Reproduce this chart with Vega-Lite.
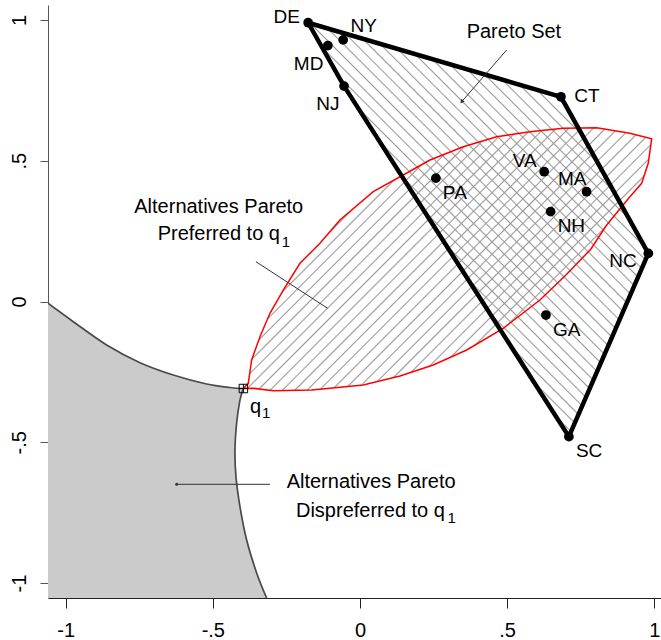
{
  "$schema": "https://vega.github.io/schema/vega-lite/v6.json",
  "width": 613,
  "height": 593,
  "autosize": {"type": "none"},
  "padding": {"left": 48, "top": 5, "right": 0, "bottom": 42},
  "background": "white",
  "config": {
    "view": {"stroke": null},
    "font": "Liberation Sans",
    "text": {"font": "Liberation Sans", "color": "#000"}
  },
  "datasets": {
    "states": [
      {"state": "DE", "x": -0.176, "y": 0.990},
      {"state": "NY", "x": -0.057, "y": 0.929},
      {"state": "MD", "x": -0.109, "y": 0.909},
      {"state": "NJ", "x": -0.054, "y": 0.765},
      {"state": "CT", "x": 0.683, "y": 0.727},
      {"state": "PA", "x": 0.258, "y": 0.438},
      {"state": "VA", "x": 0.626, "y": 0.461},
      {"state": "MA", "x": 0.770, "y": 0.390},
      {"state": "NH", "x": 0.648, "y": 0.319},
      {"state": "NC", "x": 0.980, "y": 0.171},
      {"state": "GA", "x": 0.632, "y": -0.048},
      {"state": "SC", "x": 0.710, "y": -0.480}
    ],
    "paretoSet": [
      {"i": 0, "state": "DE", "x": -0.176, "y": 0.990},
      {"i": 1, "state": "CT", "x": 0.683, "y": 0.727},
      {"i": 2, "state": "NC", "x": 0.980, "y": 0.171},
      {"i": 3, "state": "SC", "x": 0.710, "y": -0.480},
      {"i": 4, "state": "NJ", "x": -0.054, "y": 0.765},
      {"i": 5, "state": "DE", "x": -0.176, "y": 0.990}
    ],
    "preferred": [
      {"i": 0, "x": -0.396, "y": -0.309},
      {"i": 1, "x": -0.3795, "y": -0.2905},
      {"i": 2, "x": -0.368, "y": -0.2077},
      {"i": 3, "x": -0.3398, "y": -0.125},
      {"i": 4, "x": -0.3058, "y": -0.0419},
      {"i": 5, "x": -0.2606, "y": 0.0408},
      {"i": 6, "x": -0.2039, "y": 0.1357},
      {"i": 7, "x": -0.1359, "y": 0.2067},
      {"i": 8, "x": -0.068, "y": 0.2894},
      {"i": 9, "x": 0.0452, "y": 0.3899},
      {"i": 10, "x": 0.1471, "y": 0.4492},
      {"i": 11, "x": 0.2379, "y": 0.5025},
      {"i": 12, "x": 0.351, "y": 0.5497},
      {"i": 13, "x": 0.4645, "y": 0.5852},
      {"i": 14, "x": 0.5776, "y": 0.603},
      {"i": 15, "x": 0.6908, "y": 0.6151},
      {"i": 16, "x": 0.8043, "y": 0.6172},
      {"i": 17, "x": 0.9174, "y": 0.5973},
      {"i": 18, "x": 0.9912, "y": 0.5778},
      {"i": 19, "x": 0.9796, "y": 0.4908},
      {"i": 20, "x": 0.9572, "y": 0.4197},
      {"i": 21, "x": 0.9174, "y": 0.3722},
      {"i": 22, "x": 0.8892, "y": 0.3366},
      {"i": 23, "x": 0.8359, "y": 0.2681},
      {"i": 24, "x": 0.7849, "y": 0.1864},
      {"i": 25, "x": 0.7, "y": 0.0941},
      {"i": 26, "x": 0.6116, "y": 0.0053},
      {"i": 27, "x": 0.4869, "y": -0.0952},
      {"i": 28, "x": 0.3626, "y": -0.1722},
      {"i": 29, "x": 0.2491, "y": -0.2255},
      {"i": 30, "x": 0.1359, "y": -0.2646},
      {"i": 31, "x": 0.0112, "y": -0.2965},
      {"i": 32, "x": -0.1019, "y": -0.3082},
      {"i": 33, "x": -0.1641, "y": -0.3143},
      {"i": 34, "x": -0.2946, "y": -0.3168},
      {"i": 35, "x": -0.3626, "y": -0.3082},
      {"i": 36, "x": -0.396, "y": -0.309}
    ],
    "dispreferred": [
      {"i": 0, "x": -1.06, "y": -0.0064},
      {"i": 1, "x": -0.9742, "y": -0.0717},
      {"i": 2, "x": -0.8607, "y": -0.1545},
      {"i": 3, "x": -0.7475, "y": -0.2173},
      {"i": 4, "x": -0.6344, "y": -0.261},
      {"i": 5, "x": -0.5209, "y": -0.293},
      {"i": 6, "x": -0.4417, "y": -0.3054},
      {"i": 7, "x": -0.396, "y": -0.309},
      {"i": 8, "x": -0.4077, "y": -0.3501},
      {"i": 9, "x": -0.419, "y": -0.4315},
      {"i": 10, "x": -0.4247, "y": -0.5277},
      {"i": 11, "x": -0.4213, "y": -0.6222},
      {"i": 12, "x": -0.4077, "y": -0.7287},
      {"i": 13, "x": -0.385, "y": -0.8469},
      {"i": 14, "x": -0.351, "y": -0.9641},
      {"i": 15, "x": -0.317, "y": -1.053},
      {"i": 16, "x": -1.06, "y": -1.053},
      {"i": 17, "x": -1.06, "y": -0.0064}
    ],
    "pointers": [
      {"x": 0.4985, "y": 0.8932, "x2": 0.3456, "y2": 0.7095},
      {"x": -0.3534, "y": 0.1413, "x2": -0.1098, "y2": -0.0242},
      {"x": -0.3058, "y": -0.6492, "x2": -0.6228, "y2": -0.6492}
    ]
  },
  "encoding": {
    "x": {
      "field": "x",
      "type": "quantitative",
      "scale": {"domain": [-1.06, 1.023], "nice": false, "zero": false},
      "axis": {
        "title": null,
        "grid": false,
        "values": [-1, -0.5, 0, 0.5, 1],
        "labelExpr": "datum.value == 0 ? '0' : datum.value == 0.5 ? '.5' : datum.value == -0.5 ? '-.5' : datum.value == 1 ? '1' : '-1'",
        "labelFont": "Liberation Sans",
        "labelFontSize": 20,
        "labelColor": "#000",
        "labelFlush": false,
        "labelOverlap": false,
        "tickSize": 10,
        "labelPadding": 12,
        "domainColor": "#222",
        "tickColor": "#222"
      }
    },
    "y": {
      "field": "y",
      "type": "quantitative",
      "scale": {"domain": [-1.053, 1.053], "nice": false, "zero": false},
      "axis": {
        "title": null,
        "grid": false,
        "values": [-1, -0.5, 0, 0.5, 1],
        "labelExpr": "datum.value == 0 ? '0' : datum.value == 0.5 ? '.5' : datum.value == -0.5 ? '-.5' : datum.value == 1 ? '1' : '-1'",
        "labelFont": "Liberation Sans",
        "labelFontSize": 20,
        "labelColor": "#000",
        "labelAngle": 270,
        "labelAlign": "center",
        "labelBaseline": "bottom",
        "labelFlush": false,
        "labelOverlap": false,
        "tickSize": 8,
        "labelPadding": 11,
        "domainColor": "#555",
        "tickColor": "#555"
      }
    }
  },
  "layer": [
    {
      "data": {"name": "dispreferred"},
      "mark": {"type": "line", "fill": "#cbcbcb", "strokeOpacity": 0, "clip": true},
      "encoding": {"order": {"field": "i", "type": "quantitative"}}
    },
    {
      "data": {"name": "dispreferred"},
      "transform": [{"filter": "datum.i <= 7"}],
      "mark": {"type": "line", "color": "#4a4a4a", "strokeWidth": 1.7, "interpolate": "cardinal", "clip": true},
      "encoding": {"order": {"field": "i", "type": "quantitative"}}
    },
    {
      "data": {"name": "dispreferred"},
      "transform": [{"filter": "datum.i >= 7 && datum.i <= 15"}],
      "mark": {"type": "line", "color": "#4a4a4a", "strokeWidth": 1.7, "interpolate": "cardinal", "clip": true},
      "encoding": {"order": {"field": "i", "type": "quantitative"}}
    },
    {
      "data": {"name": "paretoSet"},
      "mark": {
        "type": "line",
        "strokeOpacity": 0,
        "fill": {
          "gradient": "linear",
          "x1": 1, "y1": 0, "x2": 0.0886, "y2": 1.1097,
          "stops": [
            {"offset":0.006,"color":"#9a9a9a00"},{"offset":0.008,"color":"#9a9a9a"},{"offset":0.010,"color":"#9a9a9a00"},
            {"offset":0.022,"color":"#9a9a9a00"},{"offset":0.024,"color":"#9a9a9a"},{"offset":0.026,"color":"#9a9a9a00"},
            {"offset":0.038,"color":"#9a9a9a00"},{"offset":0.040,"color":"#9a9a9a"},{"offset":0.042,"color":"#9a9a9a00"},
            {"offset":0.054,"color":"#9a9a9a00"},{"offset":0.056,"color":"#9a9a9a"},{"offset":0.058,"color":"#9a9a9a00"},
            {"offset":0.070,"color":"#9a9a9a00"},{"offset":0.072,"color":"#9a9a9a"},{"offset":0.074,"color":"#9a9a9a00"},
            {"offset":0.086,"color":"#9a9a9a00"},{"offset":0.088,"color":"#9a9a9a"},{"offset":0.090,"color":"#9a9a9a00"},
            {"offset":0.102,"color":"#9a9a9a00"},{"offset":0.104,"color":"#9a9a9a"},{"offset":0.106,"color":"#9a9a9a00"},
            {"offset":0.118,"color":"#9a9a9a00"},{"offset":0.120,"color":"#9a9a9a"},{"offset":0.122,"color":"#9a9a9a00"},
            {"offset":0.134,"color":"#9a9a9a00"},{"offset":0.136,"color":"#9a9a9a"},{"offset":0.138,"color":"#9a9a9a00"},
            {"offset":0.150,"color":"#9a9a9a00"},{"offset":0.152,"color":"#9a9a9a"},{"offset":0.154,"color":"#9a9a9a00"},
            {"offset":0.166,"color":"#9a9a9a00"},{"offset":0.168,"color":"#9a9a9a"},{"offset":0.170,"color":"#9a9a9a00"},
            {"offset":0.182,"color":"#9a9a9a00"},{"offset":0.184,"color":"#9a9a9a"},{"offset":0.186,"color":"#9a9a9a00"},
            {"offset":0.198,"color":"#9a9a9a00"},{"offset":0.200,"color":"#9a9a9a"},{"offset":0.202,"color":"#9a9a9a00"},
            {"offset":0.214,"color":"#9a9a9a00"},{"offset":0.216,"color":"#9a9a9a"},{"offset":0.218,"color":"#9a9a9a00"},
            {"offset":0.230,"color":"#9a9a9a00"},{"offset":0.232,"color":"#9a9a9a"},{"offset":0.234,"color":"#9a9a9a00"},
            {"offset":0.246,"color":"#9a9a9a00"},{"offset":0.248,"color":"#9a9a9a"},{"offset":0.250,"color":"#9a9a9a00"},
            {"offset":0.262,"color":"#9a9a9a00"},{"offset":0.264,"color":"#9a9a9a"},{"offset":0.266,"color":"#9a9a9a00"},
            {"offset":0.278,"color":"#9a9a9a00"},{"offset":0.280,"color":"#9a9a9a"},{"offset":0.282,"color":"#9a9a9a00"},
            {"offset":0.294,"color":"#9a9a9a00"},{"offset":0.296,"color":"#9a9a9a"},{"offset":0.298,"color":"#9a9a9a00"},
            {"offset":0.310,"color":"#9a9a9a00"},{"offset":0.312,"color":"#9a9a9a"},{"offset":0.314,"color":"#9a9a9a00"},
            {"offset":0.326,"color":"#9a9a9a00"},{"offset":0.328,"color":"#9a9a9a"},{"offset":0.330,"color":"#9a9a9a00"},
            {"offset":0.342,"color":"#9a9a9a00"},{"offset":0.344,"color":"#9a9a9a"},{"offset":0.346,"color":"#9a9a9a00"},
            {"offset":0.358,"color":"#9a9a9a00"},{"offset":0.360,"color":"#9a9a9a"},{"offset":0.362,"color":"#9a9a9a00"},
            {"offset":0.374,"color":"#9a9a9a00"},{"offset":0.376,"color":"#9a9a9a"},{"offset":0.378,"color":"#9a9a9a00"},
            {"offset":0.390,"color":"#9a9a9a00"},{"offset":0.392,"color":"#9a9a9a"},{"offset":0.394,"color":"#9a9a9a00"},
            {"offset":0.406,"color":"#9a9a9a00"},{"offset":0.408,"color":"#9a9a9a"},{"offset":0.410,"color":"#9a9a9a00"},
            {"offset":0.422,"color":"#9a9a9a00"},{"offset":0.424,"color":"#9a9a9a"},{"offset":0.426,"color":"#9a9a9a00"},
            {"offset":0.438,"color":"#9a9a9a00"},{"offset":0.440,"color":"#9a9a9a"},{"offset":0.442,"color":"#9a9a9a00"},
            {"offset":0.454,"color":"#9a9a9a00"},{"offset":0.456,"color":"#9a9a9a"},{"offset":0.458,"color":"#9a9a9a00"},
            {"offset":0.470,"color":"#9a9a9a00"},{"offset":0.472,"color":"#9a9a9a"},{"offset":0.474,"color":"#9a9a9a00"},
            {"offset":0.486,"color":"#9a9a9a00"},{"offset":0.488,"color":"#9a9a9a"},{"offset":0.490,"color":"#9a9a9a00"},
            {"offset":0.502,"color":"#9a9a9a00"},{"offset":0.504,"color":"#9a9a9a"},{"offset":0.506,"color":"#9a9a9a00"},
            {"offset":0.518,"color":"#9a9a9a00"},{"offset":0.520,"color":"#9a9a9a"},{"offset":0.522,"color":"#9a9a9a00"},
            {"offset":0.534,"color":"#9a9a9a00"},{"offset":0.536,"color":"#9a9a9a"},{"offset":0.538,"color":"#9a9a9a00"},
            {"offset":0.550,"color":"#9a9a9a00"},{"offset":0.552,"color":"#9a9a9a"},{"offset":0.554,"color":"#9a9a9a00"},
            {"offset":0.566,"color":"#9a9a9a00"},{"offset":0.568,"color":"#9a9a9a"},{"offset":0.570,"color":"#9a9a9a00"},
            {"offset":0.582,"color":"#9a9a9a00"},{"offset":0.584,"color":"#9a9a9a"},{"offset":0.586,"color":"#9a9a9a00"},
            {"offset":0.598,"color":"#9a9a9a00"},{"offset":0.600,"color":"#9a9a9a"},{"offset":0.602,"color":"#9a9a9a00"},
            {"offset":0.614,"color":"#9a9a9a00"},{"offset":0.616,"color":"#9a9a9a"},{"offset":0.618,"color":"#9a9a9a00"},
            {"offset":0.630,"color":"#9a9a9a00"},{"offset":0.632,"color":"#9a9a9a"},{"offset":0.634,"color":"#9a9a9a00"},
            {"offset":0.646,"color":"#9a9a9a00"},{"offset":0.648,"color":"#9a9a9a"},{"offset":0.650,"color":"#9a9a9a00"},
            {"offset":0.662,"color":"#9a9a9a00"},{"offset":0.664,"color":"#9a9a9a"},{"offset":0.666,"color":"#9a9a9a00"},
            {"offset":0.678,"color":"#9a9a9a00"},{"offset":0.680,"color":"#9a9a9a"},{"offset":0.682,"color":"#9a9a9a00"},
            {"offset":0.694,"color":"#9a9a9a00"},{"offset":0.696,"color":"#9a9a9a"},{"offset":0.698,"color":"#9a9a9a00"},
            {"offset":0.710,"color":"#9a9a9a00"},{"offset":0.712,"color":"#9a9a9a"},{"offset":0.714,"color":"#9a9a9a00"},
            {"offset":0.726,"color":"#9a9a9a00"},{"offset":0.728,"color":"#9a9a9a"},{"offset":0.730,"color":"#9a9a9a00"},
            {"offset":0.742,"color":"#9a9a9a00"},{"offset":0.744,"color":"#9a9a9a"},{"offset":0.746,"color":"#9a9a9a00"},
            {"offset":0.758,"color":"#9a9a9a00"},{"offset":0.760,"color":"#9a9a9a"},{"offset":0.762,"color":"#9a9a9a00"},
            {"offset":0.774,"color":"#9a9a9a00"},{"offset":0.776,"color":"#9a9a9a"},{"offset":0.778,"color":"#9a9a9a00"},
            {"offset":0.790,"color":"#9a9a9a00"},{"offset":0.792,"color":"#9a9a9a"},{"offset":0.794,"color":"#9a9a9a00"},
            {"offset":0.806,"color":"#9a9a9a00"},{"offset":0.808,"color":"#9a9a9a"},{"offset":0.810,"color":"#9a9a9a00"},
            {"offset":0.822,"color":"#9a9a9a00"},{"offset":0.824,"color":"#9a9a9a"},{"offset":0.826,"color":"#9a9a9a00"},
            {"offset":0.838,"color":"#9a9a9a00"},{"offset":0.840,"color":"#9a9a9a"},{"offset":0.842,"color":"#9a9a9a00"},
            {"offset":0.854,"color":"#9a9a9a00"},{"offset":0.856,"color":"#9a9a9a"},{"offset":0.858,"color":"#9a9a9a00"},
            {"offset":0.870,"color":"#9a9a9a00"},{"offset":0.872,"color":"#9a9a9a"},{"offset":0.874,"color":"#9a9a9a00"},
            {"offset":0.886,"color":"#9a9a9a00"},{"offset":0.888,"color":"#9a9a9a"},{"offset":0.890,"color":"#9a9a9a00"},
            {"offset":0.902,"color":"#9a9a9a00"},{"offset":0.904,"color":"#9a9a9a"},{"offset":0.906,"color":"#9a9a9a00"},
            {"offset":0.918,"color":"#9a9a9a00"},{"offset":0.920,"color":"#9a9a9a"},{"offset":0.922,"color":"#9a9a9a00"},
            {"offset":0.934,"color":"#9a9a9a00"},{"offset":0.936,"color":"#9a9a9a"},{"offset":0.938,"color":"#9a9a9a00"},
            {"offset":0.950,"color":"#9a9a9a00"},{"offset":0.952,"color":"#9a9a9a"},{"offset":0.954,"color":"#9a9a9a00"},
            {"offset":0.966,"color":"#9a9a9a00"},{"offset":0.968,"color":"#9a9a9a"},{"offset":0.970,"color":"#9a9a9a00"},
            {"offset":0.982,"color":"#9a9a9a00"},{"offset":0.984,"color":"#9a9a9a"},{"offset":0.986,"color":"#9a9a9a00"}
          ]
        }
      },
      "encoding": {"order": {"field": "i", "type": "quantitative"}}
    },
    {
      "data": {"name": "preferred"},
      "mark": {
        "type": "line",
        "stroke": "#ff0000",
        "strokeWidth": 1.5,
        "fill": {
          "gradient": "linear",
          "x1": 0, "y1": 0, "x2": 1.3313, "y2": 0.857,
          "stops": [
            {"offset":0.006,"color":"#9a9a9a00"},{"offset":0.008,"color":"#9a9a9a"},{"offset":0.010,"color":"#9a9a9a00"},
            {"offset":0.022,"color":"#9a9a9a00"},{"offset":0.024,"color":"#9a9a9a"},{"offset":0.026,"color":"#9a9a9a00"},
            {"offset":0.038,"color":"#9a9a9a00"},{"offset":0.040,"color":"#9a9a9a"},{"offset":0.042,"color":"#9a9a9a00"},
            {"offset":0.054,"color":"#9a9a9a00"},{"offset":0.056,"color":"#9a9a9a"},{"offset":0.058,"color":"#9a9a9a00"},
            {"offset":0.070,"color":"#9a9a9a00"},{"offset":0.072,"color":"#9a9a9a"},{"offset":0.074,"color":"#9a9a9a00"},
            {"offset":0.086,"color":"#9a9a9a00"},{"offset":0.088,"color":"#9a9a9a"},{"offset":0.090,"color":"#9a9a9a00"},
            {"offset":0.102,"color":"#9a9a9a00"},{"offset":0.104,"color":"#9a9a9a"},{"offset":0.106,"color":"#9a9a9a00"},
            {"offset":0.118,"color":"#9a9a9a00"},{"offset":0.120,"color":"#9a9a9a"},{"offset":0.122,"color":"#9a9a9a00"},
            {"offset":0.134,"color":"#9a9a9a00"},{"offset":0.136,"color":"#9a9a9a"},{"offset":0.138,"color":"#9a9a9a00"},
            {"offset":0.150,"color":"#9a9a9a00"},{"offset":0.152,"color":"#9a9a9a"},{"offset":0.154,"color":"#9a9a9a00"},
            {"offset":0.166,"color":"#9a9a9a00"},{"offset":0.168,"color":"#9a9a9a"},{"offset":0.170,"color":"#9a9a9a00"},
            {"offset":0.182,"color":"#9a9a9a00"},{"offset":0.184,"color":"#9a9a9a"},{"offset":0.186,"color":"#9a9a9a00"},
            {"offset":0.198,"color":"#9a9a9a00"},{"offset":0.200,"color":"#9a9a9a"},{"offset":0.202,"color":"#9a9a9a00"},
            {"offset":0.214,"color":"#9a9a9a00"},{"offset":0.216,"color":"#9a9a9a"},{"offset":0.218,"color":"#9a9a9a00"},
            {"offset":0.230,"color":"#9a9a9a00"},{"offset":0.232,"color":"#9a9a9a"},{"offset":0.234,"color":"#9a9a9a00"},
            {"offset":0.246,"color":"#9a9a9a00"},{"offset":0.248,"color":"#9a9a9a"},{"offset":0.250,"color":"#9a9a9a00"},
            {"offset":0.262,"color":"#9a9a9a00"},{"offset":0.264,"color":"#9a9a9a"},{"offset":0.266,"color":"#9a9a9a00"},
            {"offset":0.278,"color":"#9a9a9a00"},{"offset":0.280,"color":"#9a9a9a"},{"offset":0.282,"color":"#9a9a9a00"},
            {"offset":0.294,"color":"#9a9a9a00"},{"offset":0.296,"color":"#9a9a9a"},{"offset":0.298,"color":"#9a9a9a00"},
            {"offset":0.310,"color":"#9a9a9a00"},{"offset":0.312,"color":"#9a9a9a"},{"offset":0.314,"color":"#9a9a9a00"},
            {"offset":0.326,"color":"#9a9a9a00"},{"offset":0.328,"color":"#9a9a9a"},{"offset":0.330,"color":"#9a9a9a00"},
            {"offset":0.342,"color":"#9a9a9a00"},{"offset":0.344,"color":"#9a9a9a"},{"offset":0.346,"color":"#9a9a9a00"},
            {"offset":0.358,"color":"#9a9a9a00"},{"offset":0.360,"color":"#9a9a9a"},{"offset":0.362,"color":"#9a9a9a00"},
            {"offset":0.374,"color":"#9a9a9a00"},{"offset":0.376,"color":"#9a9a9a"},{"offset":0.378,"color":"#9a9a9a00"},
            {"offset":0.390,"color":"#9a9a9a00"},{"offset":0.392,"color":"#9a9a9a"},{"offset":0.394,"color":"#9a9a9a00"},
            {"offset":0.406,"color":"#9a9a9a00"},{"offset":0.408,"color":"#9a9a9a"},{"offset":0.410,"color":"#9a9a9a00"},
            {"offset":0.422,"color":"#9a9a9a00"},{"offset":0.424,"color":"#9a9a9a"},{"offset":0.426,"color":"#9a9a9a00"},
            {"offset":0.438,"color":"#9a9a9a00"},{"offset":0.440,"color":"#9a9a9a"},{"offset":0.442,"color":"#9a9a9a00"},
            {"offset":0.454,"color":"#9a9a9a00"},{"offset":0.456,"color":"#9a9a9a"},{"offset":0.458,"color":"#9a9a9a00"},
            {"offset":0.470,"color":"#9a9a9a00"},{"offset":0.472,"color":"#9a9a9a"},{"offset":0.474,"color":"#9a9a9a00"},
            {"offset":0.486,"color":"#9a9a9a00"},{"offset":0.488,"color":"#9a9a9a"},{"offset":0.490,"color":"#9a9a9a00"},
            {"offset":0.502,"color":"#9a9a9a00"},{"offset":0.504,"color":"#9a9a9a"},{"offset":0.506,"color":"#9a9a9a00"},
            {"offset":0.518,"color":"#9a9a9a00"},{"offset":0.520,"color":"#9a9a9a"},{"offset":0.522,"color":"#9a9a9a00"},
            {"offset":0.534,"color":"#9a9a9a00"},{"offset":0.536,"color":"#9a9a9a"},{"offset":0.538,"color":"#9a9a9a00"},
            {"offset":0.550,"color":"#9a9a9a00"},{"offset":0.552,"color":"#9a9a9a"},{"offset":0.554,"color":"#9a9a9a00"},
            {"offset":0.566,"color":"#9a9a9a00"},{"offset":0.568,"color":"#9a9a9a"},{"offset":0.570,"color":"#9a9a9a00"},
            {"offset":0.582,"color":"#9a9a9a00"},{"offset":0.584,"color":"#9a9a9a"},{"offset":0.586,"color":"#9a9a9a00"},
            {"offset":0.598,"color":"#9a9a9a00"},{"offset":0.600,"color":"#9a9a9a"},{"offset":0.602,"color":"#9a9a9a00"},
            {"offset":0.614,"color":"#9a9a9a00"},{"offset":0.616,"color":"#9a9a9a"},{"offset":0.618,"color":"#9a9a9a00"},
            {"offset":0.630,"color":"#9a9a9a00"},{"offset":0.632,"color":"#9a9a9a"},{"offset":0.634,"color":"#9a9a9a00"},
            {"offset":0.646,"color":"#9a9a9a00"},{"offset":0.648,"color":"#9a9a9a"},{"offset":0.650,"color":"#9a9a9a00"},
            {"offset":0.662,"color":"#9a9a9a00"},{"offset":0.664,"color":"#9a9a9a"},{"offset":0.666,"color":"#9a9a9a00"},
            {"offset":0.678,"color":"#9a9a9a00"},{"offset":0.680,"color":"#9a9a9a"},{"offset":0.682,"color":"#9a9a9a00"},
            {"offset":0.694,"color":"#9a9a9a00"},{"offset":0.696,"color":"#9a9a9a"},{"offset":0.698,"color":"#9a9a9a00"},
            {"offset":0.710,"color":"#9a9a9a00"},{"offset":0.712,"color":"#9a9a9a"},{"offset":0.714,"color":"#9a9a9a00"},
            {"offset":0.726,"color":"#9a9a9a00"},{"offset":0.728,"color":"#9a9a9a"},{"offset":0.730,"color":"#9a9a9a00"},
            {"offset":0.742,"color":"#9a9a9a00"},{"offset":0.744,"color":"#9a9a9a"},{"offset":0.746,"color":"#9a9a9a00"},
            {"offset":0.758,"color":"#9a9a9a00"},{"offset":0.760,"color":"#9a9a9a"},{"offset":0.762,"color":"#9a9a9a00"},
            {"offset":0.774,"color":"#9a9a9a00"},{"offset":0.776,"color":"#9a9a9a"},{"offset":0.778,"color":"#9a9a9a00"},
            {"offset":0.790,"color":"#9a9a9a00"},{"offset":0.792,"color":"#9a9a9a"},{"offset":0.794,"color":"#9a9a9a00"},
            {"offset":0.806,"color":"#9a9a9a00"},{"offset":0.808,"color":"#9a9a9a"},{"offset":0.810,"color":"#9a9a9a00"},
            {"offset":0.822,"color":"#9a9a9a00"},{"offset":0.824,"color":"#9a9a9a"},{"offset":0.826,"color":"#9a9a9a00"},
            {"offset":0.838,"color":"#9a9a9a00"},{"offset":0.840,"color":"#9a9a9a"},{"offset":0.842,"color":"#9a9a9a00"},
            {"offset":0.854,"color":"#9a9a9a00"},{"offset":0.856,"color":"#9a9a9a"},{"offset":0.858,"color":"#9a9a9a00"},
            {"offset":0.870,"color":"#9a9a9a00"},{"offset":0.872,"color":"#9a9a9a"},{"offset":0.874,"color":"#9a9a9a00"},
            {"offset":0.886,"color":"#9a9a9a00"},{"offset":0.888,"color":"#9a9a9a"},{"offset":0.890,"color":"#9a9a9a00"},
            {"offset":0.902,"color":"#9a9a9a00"},{"offset":0.904,"color":"#9a9a9a"},{"offset":0.906,"color":"#9a9a9a00"},
            {"offset":0.918,"color":"#9a9a9a00"},{"offset":0.920,"color":"#9a9a9a"},{"offset":0.922,"color":"#9a9a9a00"},
            {"offset":0.934,"color":"#9a9a9a00"},{"offset":0.936,"color":"#9a9a9a"},{"offset":0.938,"color":"#9a9a9a00"},
            {"offset":0.950,"color":"#9a9a9a00"},{"offset":0.952,"color":"#9a9a9a"},{"offset":0.954,"color":"#9a9a9a00"},
            {"offset":0.966,"color":"#9a9a9a00"},{"offset":0.968,"color":"#9a9a9a"},{"offset":0.970,"color":"#9a9a9a00"},
            {"offset":0.982,"color":"#9a9a9a00"},{"offset":0.984,"color":"#9a9a9a"},{"offset":0.986,"color":"#9a9a9a00"}
          ]
        }
      },
      "encoding": {"order": {"field": "i", "type": "quantitative"}}
    },
    {
      "data": {"name": "paretoSet"},
      "mark": {"type": "line", "color": "#000", "strokeWidth": 4.5, "strokeJoin": "round", "strokeCap": "round"},
      "encoding": {"order": {"field": "i", "type": "quantitative"}}
    },
    {
      "data": {"name": "pointers"},
      "mark": {"type": "rule", "color": "#333", "strokeWidth": 1},
      "encoding": {
        "x2": {"field": "x2"},
        "y2": {"field": "y2"}
      }
    },
    {
      "data": {"values": [{"x": 0.3456, "y": 0.7095}]},
      "mark": {"type": "point", "shape": "triangle-up", "filled": true, "color": "#333", "size": 22, "angle": 221, "opacity": 1}
    },
    {
      "data": {"values": [{"x": -0.6228, "y": -0.6492}]},
      "mark": {"type": "circle", "color": "#333", "size": 9, "opacity": 1}
    },
    {
      "data": {"name": "states"},
      "mark": {"type": "circle", "color": "#000", "size": 95, "opacity": 1}
    },
    {
      "data": {"values": [{"x": -0.396, "y": -0.309}]},
      "mark": {"type": "point", "shape": "M-1,-1H1V1H-1Z M-1,0H1 M0,-1V1", "filled": false, "stroke": "#000", "strokeWidth": 1, "size": 72, "opacity": 1}
    },
    {
      "data": {"name": "states"},
      "transform": [{"filter": {"field": "state", "oneOf": ["PA", "NH", "GA", "SC"]}}],
      "mark": {"type": "text", "fontSize": 19, "align": "left", "baseline": "alphabetic", "dx": 7, "dy": 20.5},
      "encoding": {"text": {"field": "state"}}
    },
    {
      "data": {"name": "states"},
      "transform": [{"filter": {"field": "state", "oneOf": ["MD", "NJ"]}}],
      "mark": {"type": "text", "fontSize": 19, "align": "right", "baseline": "alphabetic", "dx": -4.5, "dy": 24},
      "encoding": {"text": {"field": "state"}}
    },
    {
      "data": {"name": "states"},
      "transform": [{"filter": {"field": "state", "equal": "VA"}}],
      "mark": {"type": "text", "fontSize": 19, "align": "right", "baseline": "alphabetic", "dx": -7.6, "dy": -5},
      "encoding": {"text": {"field": "state"}}
    },
    {
      "data": {"name": "states"},
      "transform": [{"filter": {"field": "state", "equal": "MA"}}],
      "mark": {"type": "text", "fontSize": 19, "align": "right", "baseline": "alphabetic", "dx": 0, "dy": -6.7},
      "encoding": {"text": {"field": "state"}}
    },
    {
      "data": {"name": "states"},
      "transform": [{"filter": {"field": "state", "equal": "DE"}}],
      "mark": {"type": "text", "fontSize": 19, "align": "right", "baseline": "alphabetic", "dx": -8.3, "dy": 0},
      "encoding": {"text": {"field": "state"}}
    },
    {
      "data": {"name": "states"},
      "transform": [{"filter": {"field": "state", "equal": "NC"}}],
      "mark": {"type": "text", "fontSize": 19, "align": "right", "baseline": "alphabetic", "dx": -11.6, "dy": 13.4},
      "encoding": {"text": {"field": "state"}}
    },
    {
      "data": {"name": "states"},
      "transform": [{"filter": {"field": "state", "equal": "NY"}}],
      "mark": {"type": "text", "fontSize": 19, "align": "left", "baseline": "alphabetic", "dx": 7.4, "dy": -8.3},
      "encoding": {"text": {"field": "state"}}
    },
    {
      "data": {"name": "states"},
      "transform": [{"filter": {"field": "state", "equal": "CT"}}],
      "mark": {"type": "text", "fontSize": 19, "align": "left", "baseline": "alphabetic", "dx": 13.3, "dy": 5},
      "encoding": {"text": {"field": "state"}}
    },
    {
      "data": {"values": [
        {"t": "Pareto Set", "x": 0.3626, "y": 0.9347},
        {"t": "Alternatives Pareto", "x": -0.7669, "y": 0.3132},
        {"t": "Alternatives Pareto", "x": -0.2491, "y": -0.6634},
        {"t": "q", "x": -0.3738, "y": -0.397}
      ]},
      "mark": {"type": "text", "fontSize": 20, "align": "left", "baseline": "alphabetic"},
      "encoding": {"text": {"field": "t"}}
    },
    {
      "data": {"values": [
        {"t": "Preferred to q", "x": -0.2718, "y": 0.2184},
        {"t": "Dispreferred to q", "x": 0.2888, "y": -0.7642}
      ]},
      "mark": {"type": "text", "fontSize": 20, "align": "right", "baseline": "alphabetic"},
      "encoding": {"text": {"field": "t"}}
    },
    {
      "data": {"values": [
        {"t": "1", "x": -0.2661, "y": 0.1946},
        {"t": "1", "x": 0.2973, "y": -0.7876},
        {"t": "1", "x": -0.333, "y": -0.4137}
      ]},
      "mark": {"type": "text", "fontSize": 15, "align": "left", "baseline": "alphabetic"},
      "encoding": {"text": {"field": "t"}}
    },
    {
      "data": {"values": [{}]},
      "mark": {"type": "rule", "color": "#666", "strokeWidth": 1},
      "encoding": {
        "x": {"datum": -1.06},
        "x2": {"datum": 1.023},
        "y": {"datum": 1.053}
      }
    }
  ]
}
